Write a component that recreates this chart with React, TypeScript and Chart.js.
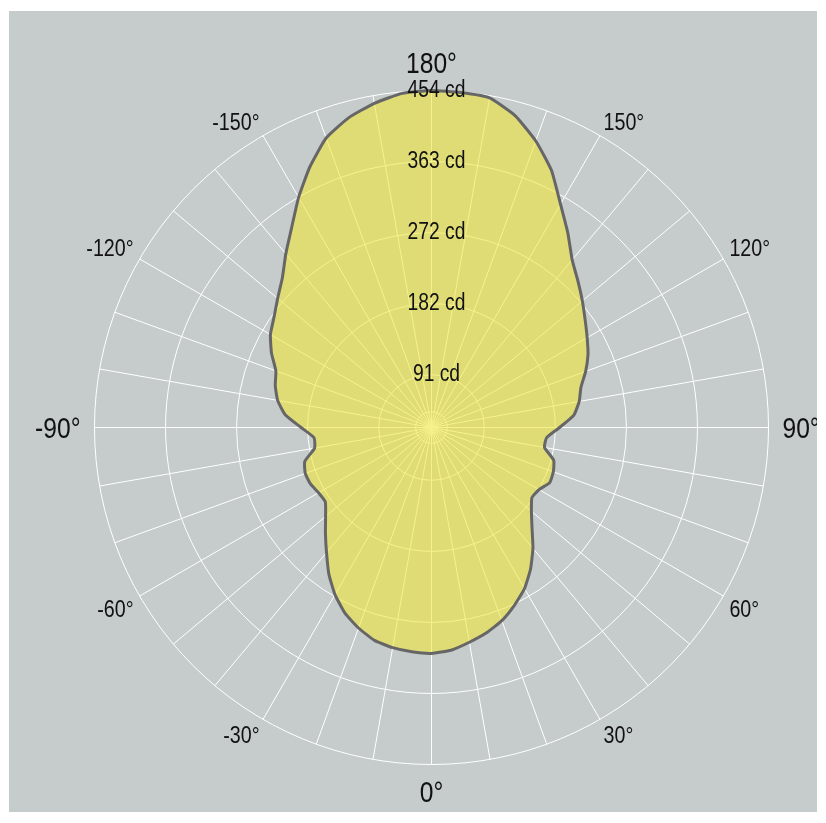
import React, { useEffect, useRef } from 'react';
import { Chart, registerables } from 'chart.js';

Chart.register(...registerables);

// Angle categories (degrees), clockwise from the top of the diagram
const ANGLES = [
  180, 175, 170, 165, 160, 155, 150, 145, 140, 135, 130, 125,
  120, 115, 110, 105, 100, 95, 90, 85, 80, 75, 70, 65,
  60, 55, 50, 45, 40, 35, 30, 25, 20, 15, 10, 5,
  0, -5, -10, -15, -20, -25, -30, -35, -40, -45, -50, -55,
  -60, -65, -70, -75, -80, -85, -90, -95, -100, -105, -110, -115,
  -120, -125, -130, -135, -140, -145, -150, -155, -160, -165, -170, -175,
];

// Luminous intensity (cd)
const INTENSITY = [
  454, 453, 451, 436, 413, 386, 353, 327, 303, 288, 275, 263,
  253, 244, 233, 221, 215, 206, 187, 171, 170, 185, 189, 190,
  182, 180, 190, 205, 225, 244, 261, 274, 286, 295, 302, 309,
  312, 311, 309, 305, 296, 285, 270, 252, 232, 215, 200, 189,
  190, 194, 195, 191, 175, 174, 190, 211, 223, 230, 235, 249,
  261, 269, 280, 293, 313, 335, 363, 391, 417, 433, 444, 452,
];

const R_MIN = 23.3;
const R_MAX = 454;
const TICK_VALUES = [23.3, 43.7, 90.8, 181.6, 272.4, 363.2, 454];
const TICK_LABELS = ['', '', '91 cd', '182 cd', '272 cd', '363 cd', '454 cd'];
const ANGLE_TICKS = [180, 150, 120, 90, 60, 30, 0, -30, -60, -90, -120, -150];
const MAJOR_ANGLES = [180, 90, 0, -90];

const FONT = "'Liberation Sans', Arial, sans-serif";
const CONDENSE = 0.82;

const condensePlugin = {
  id: 'condenseTicks',
  afterDatasetsDraw(chart: any) {
    const ctx = chart.ctx;
    const xc = chart.scales.r.xCenter;
    ctx.save();
    ctx.translate(xc + 5, 0);
    ctx.scale(CONDENSE, 1);
    ctx.translate(-xc, 0);
  },
  afterDraw(chart: any) {
    const ctx = chart.ctx;
    ctx.restore();
    const scale = chart.scales.r;
    ctx.save();
    ctx.fillStyle = '#111111';
    ctx.textBaseline = 'alphabetic';
    ANGLE_TICKS.forEach((a) => {
      const idx = ANGLES.indexOf(a);
      const size = MAJOR_ANGLES.includes(a) ? 30 : 24;
      const cap = 0.716 * size;
      const rad = (a * Math.PI) / 180;
      const sx = Math.sin(rad);
      const cy = Math.cos(rad);
      let align: CanvasTextAlign = 'center';
      let dist: number;
      let y: number;
      let p: any;
      if (Math.abs(sx) < 0.01) {
        // top / bottom labels: centred, sitting outside the ring
        dist = scale.drawingArea + (cy < 0 ? 18 : 16);
        p = scale.getPointPosition(idx, dist);
        y = cy < 0 ? p.y : p.y + cap;
      } else if (Math.abs(cy) < 0.01) {
        // left / right labels: vertically centred, inner edge on anchor
        dist = scale.drawingArea + 14;
        p = scale.getPointPosition(idx, dist);
        y = p.y + cap / 2;
        align = sx > 0 ? 'left' : 'right';
      } else {
        // diagonal labels: inner corner of the text box on the anchor
        dist = scale.drawingArea + 7;
        p = scale.getPointPosition(idx, dist);
        y = cy < 0 ? p.y : p.y + cap;
        align = sx > 0 ? 'left' : 'right';
      }
      ctx.font = `${size}px ${FONT}`;
      ctx.textAlign = align;
      ctx.save();
      ctx.translate(p.x, y);
      ctx.scale(CONDENSE, 1);
      ctx.fillText(`${a}°`, 0, 0);
      ctx.restore();
    });
    ctx.restore();
  },
};

export default function App() {
  const ref = useRef<HTMLCanvasElement | null>(null);

  useEffect(() => {
    if (!ref.current) return;
    const chart = new Chart(ref.current, {
      type: 'radar',
      data: {
        labels: ANGLES.map((a) => `${a}°`),
        datasets: [
          {
            data: INTENSITY,
            backgroundColor: 'rgba(240, 232, 60, 0.6)',
            borderColor: '#666666',
            borderWidth: 3,
            fill: true,
            pointRadius: 0,
            tension: 0.15,
          },
        ],
      },
      options: {
        responsive: false,
        animation: false,
        plugins: {
          legend: { display: false },
          tooltip: { enabled: false },
        },
        layout: { padding: 0 },
        scales: {
          r: {
            min: R_MIN,
            max: R_MAX,
            startAngle: 0,
            beginAtZero: false,
            afterBuildTicks: (scale: any) => {
              scale.ticks = TICK_VALUES.map((v) => ({ value: v }));
            },
            afterFit: (scale: any) => {
              scale.xCenter = 422.5;
              scale.yCenter = 416.5;
              scale.drawingArea = 337;
            },
            grid: {
              circular: true,
              color: '#ffffff',
              lineWidth: 1,
            },
            angleLines: {
              display: true,
              color: (c: any) => (c.index % 2 === 0 ? '#ffffff' : 'rgba(0,0,0,0)'),
              lineWidth: 1,
            },
            pointLabels: { display: false },
            ticks: {
              display: true,
              z: 1,
              showLabelBackdrop: false,
              backdropPadding: 0,
              color: '#111111',
              font: { family: FONT, size: 23.5 },
              callback: (_v: any, i: number) => TICK_LABELS[i],
            },
          },
        },
      },
      plugins: [condensePlugin],
    });
    return () => chart.destroy();
  }, []);

  return (
    <div
      style={{
        position: 'absolute',
        left: 9,
        top: 11,
        width: 808,
        height: 801,
        background: '#c6cbcc',
      }}
    >
      <canvas ref={ref} width={808} height={801} style={{ display: 'block' }} />
    </div>
  );
}
